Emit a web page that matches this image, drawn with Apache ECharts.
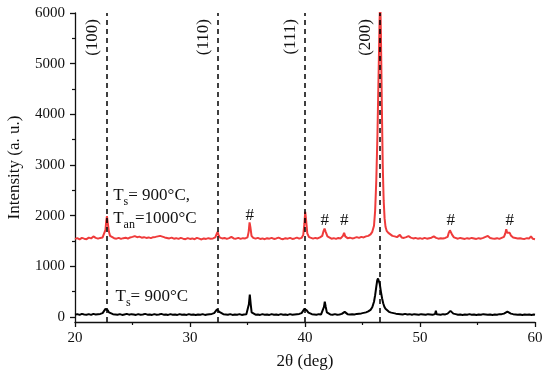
<!DOCTYPE html>
<html>
<head>
<meta charset="utf-8">
<script src="https://cdn.jsdelivr.net/npm/echarts@6/dist/echarts.min.js"></script>
<style>html,body{margin:0;padding:0;background:#fff}#c{width:550px;height:380px}</style>
</head>
<body>
<div id="c"></div>
<script>
// ---- data ----
const xTicks = [20, 30, 40, 50, 60];
const yTickLabels = [0, 1000, 2000, 3000, 4000, 5000, 6000];
const yMinorTicks = [500, 1500, 2500, 3500, 4500, 5500];
const planes = ['(100)', '(110)', '(111)', '(200)'];
const planePositions = [22.75, 32.4, 40.0, 46.5];
const hashPositions = [[35.2, 2010], [41.72, 1900], [43.42, 1900], [52.67, 1900], [57.8, 1900]];
const annealedLabel1 = [23.28, 2405];
const annealedLabel2 = [23.28, 1950];
const asGrownLabel = [23.48, 405];

// Ts = 900 °C, Tan = 1000 °C (red)
const annealed = [
[20.0,1540],[20.2,1555],[20.4,1530],[20.6,1560],[20.8,1545],[21.0,1535],[21.2,1565],[21.4,1550],[21.6,1590],[21.7,1620],[21.8,1560],[22.0,1545],[22.2,1560],[22.4,1570],[22.55,1600],[22.65,1720],[22.72,1900],[22.78,1990],[22.85,1850],[22.95,1680],[23.05,1600],[23.2,1570],[23.4,1555],[23.6,1545],[23.8,1560],[24.0,1540],[24.2,1555],[24.4,1565],[24.6,1545],[24.8,1570],[25.0,1580],[25.2,1595],[25.4,1575],[25.6,1585],[25.8,1565],[26.0,1575],[26.2,1560],[26.4,1570],[26.6,1555],[26.8,1575],[27.0,1580],[27.2,1590],[27.4,1600],[27.6,1585],[27.8,1570],[28.0,1560],[28.2,1550],[28.4,1565],[28.6,1545],[28.8,1555],[29.0,1540],[29.2,1560],[29.4,1545],[29.6,1535],[29.8,1555],[30.0,1540],[30.2,1550],[30.4,1535],[30.6,1560],[30.8,1545],[31.0,1530],[31.2,1550],[31.4,1540],[31.6,1555],[31.8,1545],[32.0,1550],[32.2,1570],[32.32,1640],[32.4,1680],[32.48,1620],[32.6,1565],[32.8,1550],[33.0,1560],[33.2,1540],[33.4,1555],[33.6,1580],[33.8,1550],[34.0,1545],[34.2,1560],[34.4,1540],[34.6,1555],[34.8,1550],[35.0,1570],[35.1,1680],[35.18,1865],[35.26,1760],[35.35,1600],[35.5,1560],[35.7,1545],[35.9,1560],[36.1,1540],[36.3,1550],[36.5,1535],[36.7,1555],[36.9,1545],[37.1,1560],[37.3,1540],[37.5,1550],[37.7,1565],[37.9,1545],[38.1,1535],[38.3,1555],[38.5,1545],[38.7,1560],[38.9,1540],[39.1,1550],[39.3,1565],[39.5,1545],[39.7,1560],[39.85,1620],[39.95,1850],[40.02,2075],[40.1,1900],[40.2,1650],[40.35,1575],[40.5,1555],[40.7,1545],[40.9,1560],[41.1,1550],[41.3,1570],[41.5,1600],[41.62,1700],[41.7,1745],[41.8,1680],[41.95,1590],[42.1,1560],[42.3,1545],[42.5,1555],[42.7,1540],[42.9,1560],[43.1,1550],[43.3,1600],[43.4,1660],[43.5,1590],[43.7,1555],[43.9,1565],[44.1,1550],[44.3,1560],[44.5,1575],[44.7,1560],[44.9,1580],[45.1,1570],[45.3,1590],[45.5,1600],[45.7,1630],[45.85,1680],[46.0,1800],[46.1,2100],[46.2,2700],[46.3,3600],[46.4,4800],[46.48,5800],[46.54,6300],[46.6,5600],[46.68,4200],[46.76,3000],[46.84,2300],[46.92,1950],[47.0,1780],[47.1,1700],[47.25,1660],[47.4,1630],[47.6,1600],[47.8,1590],[48.0,1575],[48.15,1600],[48.25,1620],[48.4,1570],[48.6,1560],[48.8,1575],[49.0,1595],[49.2,1565],[49.4,1550],[49.6,1560],[49.8,1545],[50.0,1555],[50.2,1540],[50.4,1560],[50.6,1545],[50.8,1555],[51.0,1565],[51.2,1590],[51.4,1560],[51.6,1545],[51.8,1555],[52.0,1550],[52.2,1560],[52.4,1580],[52.5,1660],[52.6,1710],[52.7,1690],[52.8,1620],[52.95,1570],[53.1,1555],[53.3,1545],[53.5,1560],[53.7,1550],[53.9,1540],[54.1,1555],[54.3,1545],[54.5,1560],[54.7,1550],[54.9,1540],[55.1,1555],[55.3,1545],[55.5,1560],[55.7,1580],[55.9,1600],[56.1,1560],[56.3,1550],[56.5,1545],[56.7,1555],[56.9,1540],[57.1,1560],[57.3,1580],[57.42,1650],[57.5,1730],[57.58,1660],[57.7,1640],[57.8,1660],[57.9,1610],[58.1,1570],[58.3,1560],[58.5,1550],[58.7,1555],[58.9,1545],[59.1,1540],[59.3,1555],[59.5,1550],[59.65,1590],[59.8,1545],[60.0,1535]
];

// Ts = 900 °C (black)
const asGrown = [
[20.0,45],[20.2,55],[20.4,40],[20.6,60],[20.8,50],[21.0,45],[21.2,55],[21.4,40],[21.6,60],[21.8,50],[22.0,55],[22.2,60],[22.4,75],[22.55,110],[22.65,160],[22.75,170],[22.85,130],[22.95,90],[23.1,65],[23.3,55],[23.5,50],[23.7,45],[23.9,55],[24.1,40],[24.3,50],[24.5,60],[24.7,45],[24.9,55],[25.1,50],[25.3,40],[25.5,55],[25.7,45],[25.9,50],[26.1,60],[26.3,45],[26.5,50],[26.7,40],[26.9,55],[27.1,45],[27.3,50],[27.5,60],[27.7,45],[27.9,50],[28.1,40],[28.3,55],[28.5,45],[28.7,50],[28.9,40],[29.1,55],[29.3,45],[29.5,50],[29.7,40],[29.9,55],[30.1,45],[30.3,50],[30.5,40],[30.7,50],[30.9,45],[31.1,55],[31.3,40],[31.5,50],[31.7,55],[31.9,60],[32.1,75],[32.25,110],[32.35,150],[32.45,140],[32.55,100],[32.7,70],[32.9,55],[33.1,50],[33.3,45],[33.5,55],[33.7,40],[33.9,50],[34.1,45],[34.3,55],[34.5,40],[34.7,50],[34.9,55],[35.05,90],[35.12,250],[35.2,440],[35.28,250],[35.36,90],[35.5,55],[35.7,45],[35.9,50],[36.1,40],[36.3,55],[36.5,45],[36.7,50],[36.9,40],[37.1,55],[37.3,45],[37.5,50],[37.7,40],[37.9,55],[38.1,45],[38.3,50],[38.5,40],[38.7,55],[38.9,45],[39.1,50],[39.3,55],[39.5,60],[39.7,75],[39.85,110],[39.95,160],[40.05,165],[40.15,130],[40.3,85],[40.45,65],[40.6,55],[40.8,50],[41.0,45],[41.2,55],[41.4,50],[41.55,80],[41.65,200],[41.72,300],[41.8,200],[41.9,90],[42.05,60],[42.2,50],[42.4,45],[42.6,55],[42.8,45],[43.0,50],[43.2,60],[43.35,95],[43.45,100],[43.55,70],[43.7,55],[43.9,50],[44.1,55],[44.3,50],[44.5,60],[44.7,65],[44.9,70],[45.1,80],[45.3,90],[45.5,110],[45.7,140],[45.85,190],[46.0,300],[46.1,430],[46.2,600],[46.28,720],[46.35,760],[46.42,750],[46.5,650],[46.6,500],[46.7,370],[46.8,270],[46.9,200],[47.0,160],[47.15,125],[47.3,100],[47.5,85],[47.7,75],[47.9,65],[48.1,60],[48.3,55],[48.5,50],[48.7,60],[48.9,50],[49.1,55],[49.3,45],[49.5,55],[49.7,50],[49.9,45],[50.1,55],[50.3,50],[50.5,45],[50.7,55],[50.9,50],[51.1,45],[51.3,55],[51.38,120],[51.45,55],[51.6,50],[51.8,45],[52.0,55],[52.2,50],[52.4,65],[52.55,100],[52.65,120],[52.75,95],[52.9,65],[53.1,55],[53.3,45],[53.5,50],[53.7,40],[53.9,50],[54.1,45],[54.3,55],[54.5,45],[54.7,50],[54.9,40],[55.1,50],[55.3,45],[55.5,55],[55.7,50],[55.9,45],[56.1,50],[56.3,40],[56.5,50],[56.7,45],[56.9,55],[57.1,55],[57.3,65],[57.45,90],[57.6,105],[57.75,85],[57.9,65],[58.1,55],[58.3,50],[58.5,45],[58.7,50],[58.9,40],[59.1,50],[59.3,45],[59.5,50],[59.7,40],[59.9,50],[60.0,45]
];

// ---- chart ----
const FONT = "'Liberation Serif', 'Times New Roman', serif";
const INK = '#111';
const rich = {
  m: { fontFamily: FONT, fontSize: 17, color: INK, lineHeight: 20 },
  s: { fontFamily: FONT, fontSize: 12, color: INK, lineHeight: 25, verticalAlign: 'bottom' }
};
const textPoint = (pt, txt) => ({ value: pt, label: { formatter: txt } });
const plain = v => String(v);

const chart = echarts.init(document.getElementById('c'), null, { renderer: 'canvas' });
chart.setOption({
  animation: false,
  backgroundColor: '#fff',
  grid: { left: 75, right: 15, top: 13, bottom: 58, containLabel: false, outerBoundsMode: 'none' },
  xAxis: {
    type: 'value', min: xTicks[0], max: xTicks[xTicks.length - 1], interval: 10,
    name: '2θ (deg)', nameLocation: 'middle', nameGap: 31,
    nameTextStyle: { fontFamily: FONT, fontSize: 17, color: INK },
    axisLine: { show: true, onZero: false, lineStyle: { color: INK, width: 1.3 } },
    axisTick: { show: true, length: 5, lineStyle: { color: INK, width: 1.3 } },
    minorTick: { show: true, splitNumber: 2, length: 3, lineStyle: { color: INK, width: 1.2 } },
    axisLabel: { fontFamily: FONT, fontSize: 15, color: INK, margin: 9, formatter: plain },
    splitLine: { show: false }, minorSplitLine: { show: false }
  },
  yAxis: [{
    type: 'value', min: -100, max: 6000,
    name: 'Intensity (a. u.)', nameLocation: 'middle', nameGap: 52,
    nameTextStyle: { fontFamily: FONT, fontSize: 17, color: INK },
    axisLine: { show: true, onZero: false, lineStyle: { color: INK, width: 1.3 } },
    axisTick: { show: true, length: 5, customValues: yTickLabels, lineStyle: { color: INK, width: 1.3 } },
    axisLabel: { fontFamily: FONT, fontSize: 15, color: INK, margin: 10, customValues: yTickLabels, formatter: plain },
    splitLine: { show: false }
  }, {
    type: 'value', min: -100, max: 6000, position: 'left',
    axisLine: { show: false },
    axisTick: { show: true, length: 3, customValues: yMinorTicks, lineStyle: { color: INK, width: 1.2 } },
    axisLabel: { show: false },
    splitLine: { show: false }
  }],
  series: [
    {
      name: 'Ts=900', type: 'line', data: asGrown, showSymbol: false, symbol: 'none',
      lineStyle: { color: '#000', width: 2 }, z: 2, clip: true
    },
    {
      name: 'Ts=900 Tan=1000', type: 'line', data: annealed, showSymbol: false, symbol: 'none',
      lineStyle: { color: '#ef3b3b', width: 2 }, z: 3, clip: true
    },
    {
      name: 'planes', type: 'line', data: [], z: 5, silent: true,
      markLine: {
        silent: true, symbol: 'none', animation: false,
        lineStyle: { color: '#000', type: [5, 4], width: 1.5 },
        label: { show: true, position: 'insideEndTop', formatter: '{b}', distance: 6,
                 fontFamily: FONT, fontSize: 17, color: INK },
        emphasis: { disabled: true },
        data: planes.map((p, i) => ({ name: p, xAxis: planePositions[i] }))
      }
    },
    {
      name: 'hash', type: 'scatter', data: hashPositions, symbolSize: 1, z: 6, silent: true,
      itemStyle: { color: 'rgba(0,0,0,0)', opacity: 1 },
      label: { show: true, position: 'inside', formatter: '#', fontFamily: FONT, fontSize: 17,
               color: INK, opacity: 1, textBorderWidth: 0 }
    },
    {
      name: 'labels', type: 'scatter', symbolSize: 1, z: 6, silent: true,
      itemStyle: { color: 'rgba(0,0,0,0)', opacity: 1 },
      label: { show: true, position: 'right', distance: 0, rich: rich, color: INK, opacity: 1 },
      data: [
        textPoint(annealedLabel1, '{m|T}{s|s}{m|= 900°C,}'),
        textPoint(annealedLabel2, '{m|T}{s|an}{m|=1000°C}'),
        textPoint(asGrownLabel, '{m|T}{s|s}{m|= 900°C}')
      ]
    }
  ]
});
</script>
</body>
</html>
